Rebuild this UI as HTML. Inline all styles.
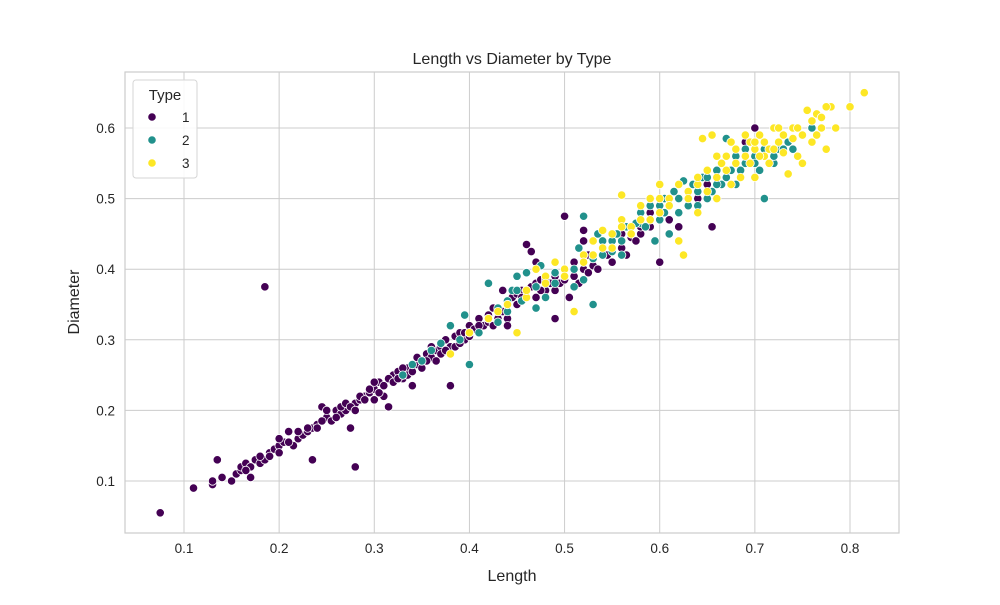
<!DOCTYPE html>
<html><head><meta charset="utf-8"><style>
body{margin:0;background:#fff}
svg{font-family:"Liberation Sans","DejaVu Sans",sans-serif}
</style></head><body>
<svg id="chart" width="1000" height="600"></svg>
<script>
const xTicks=[0.1,0.2,0.3,0.4,0.5,0.6,0.7,0.8];
const yTicks=[0.1,0.2,0.3,0.4,0.5,0.6];
const typeLabels=["1","2","3"];
const type1=[[0.075,0.055],[0.11,0.09],[0.13,0.095],[0.13,0.1],[0.135,0.13],[0.14,0.105],[0.15,0.1],[0.155,0.11],[0.16,0.115],[0.16,0.12],[0.165,0.125],[0.17,0.105],[0.17,0.12],[0.175,0.13],[0.18,0.125],[0.185,0.375],[0.185,0.13],[0.19,0.14],[0.195,0.145],[0.2,0.15],[0.2,0.14],[0.205,0.155],[0.21,0.17],[0.215,0.15],[0.22,0.16],[0.225,0.165],[0.23,0.17],[0.235,0.13],[0.235,0.175],[0.24,0.18],[0.245,0.205],[0.25,0.19],[0.255,0.185],[0.26,0.2],[0.265,0.195],[0.27,0.2],[0.275,0.175],[0.28,0.12],[0.28,0.21],[0.285,0.215],[0.29,0.22],[0.295,0.225],[0.3,0.23],[0.3,0.215],[0.305,0.24],[0.31,0.22],[0.315,0.205],[0.32,0.25],[0.325,0.255],[0.33,0.245],[0.335,0.26],[0.34,0.235],[0.345,0.265],[0.35,0.27],[0.355,0.28],[0.36,0.275],[0.365,0.285],[0.37,0.29],[0.375,0.3],[0.38,0.235],[0.38,0.29],[0.385,0.305],[0.39,0.31],[0.395,0.3],[0.4,0.32],[0.405,0.315],[0.41,0.33],[0.415,0.32],[0.42,0.325],[0.425,0.345],[0.43,0.34],[0.435,0.37],[0.44,0.35],[0.445,0.36],[0.45,0.365],[0.455,0.37],[0.46,0.36],[0.465,0.375],[0.47,0.38],[0.475,0.385],[0.48,0.37],[0.485,0.38],[0.49,0.33],[0.49,0.39],[0.5,0.4],[0.5,0.475],[0.505,0.36],[0.51,0.41],[0.515,0.38],[0.52,0.44],[0.525,0.42],[0.53,0.405],[0.54,0.43],[0.55,0.41],[0.56,0.43],[0.57,0.445],[0.58,0.45],[0.59,0.48],[0.6,0.41],[0.61,0.47],[0.62,0.46],[0.63,0.5],[0.65,0.52],[0.655,0.46],[0.67,0.54],[0.69,0.58],[0.7,0.6],[0.46,0.435],[0.465,0.425],
[0.165,0.115],[0.18,0.135],[0.19,0.135],[0.2,0.16],[0.21,0.155],[0.22,0.17],[0.23,0.175],[0.24,0.175],[0.245,0.185],[0.25,0.2],[0.26,0.19],[0.265,0.205],[0.27,0.21],[0.275,0.205],[0.28,0.2],[0.285,0.22],[0.29,0.215],[0.295,0.23],[0.3,0.24],[0.305,0.225],[0.31,0.235],[0.315,0.245],[0.32,0.24],[0.325,0.245],[0.33,0.26],[0.335,0.25],[0.34,0.255],[0.345,0.275],[0.35,0.26],[0.355,0.27],[0.36,0.29],[0.365,0.27],[0.37,0.28],[0.375,0.285],[0.385,0.29],[0.39,0.295],[0.395,0.31],[0.4,0.305],[0.41,0.32],[0.42,0.335],[0.425,0.32],[0.43,0.33],[0.435,0.34],[0.44,0.33],[0.45,0.35],[0.455,0.36],[0.47,0.36],[0.475,0.37],[0.48,0.385],[0.49,0.37],[0.495,0.38],[0.5,0.385],[0.51,0.39],[0.52,0.4],[0.525,0.395],[0.53,0.42],[0.535,0.4],[0.545,0.42],[0.55,0.43],[0.56,0.45],[0.565,0.42],[0.575,0.44],[0.58,0.46],[0.59,0.46],[0.6,0.47],[0.62,0.48],[0.64,0.5],[0.66,0.53],[0.68,0.55],[0.44,0.32],[0.47,0.41],[0.52,0.455]];
const type2=[[0.33,0.25],[0.34,0.265],[0.35,0.27],[0.36,0.285],[0.37,0.295],[0.38,0.32],[0.39,0.3],[0.395,0.335],[0.4,0.265],[0.41,0.31],[0.42,0.38],[0.43,0.325],[0.44,0.355],[0.445,0.37],[0.45,0.39],[0.46,0.395],[0.47,0.345],[0.475,0.405],[0.48,0.36],[0.49,0.38],[0.5,0.4],[0.51,0.375],[0.515,0.43],[0.52,0.385],[0.53,0.35],[0.535,0.45],[0.54,0.42],[0.55,0.44],[0.56,0.42],[0.565,0.46],[0.57,0.45],[0.58,0.465],[0.59,0.47],[0.595,0.44],[0.6,0.49],[0.605,0.48],[0.61,0.45],[0.62,0.5],[0.625,0.525],[0.63,0.49],[0.64,0.51],[0.645,0.53],[0.65,0.5],[0.66,0.54],[0.665,0.52],[0.67,0.585],[0.675,0.54],[0.68,0.52],[0.69,0.55],[0.7,0.56],[0.705,0.54],[0.71,0.5],[0.72,0.55],[0.725,0.57],[0.73,0.57],[0.735,0.58],[0.74,0.57],[0.76,0.6],[0.52,0.475],[0.45,0.37],
[0.4,0.31],[0.42,0.33],[0.43,0.345],[0.44,0.34],[0.455,0.355],[0.46,0.37],[0.47,0.375],[0.48,0.39],[0.49,0.395],[0.5,0.39],[0.51,0.4],[0.52,0.41],[0.53,0.415],[0.54,0.44],[0.55,0.425],[0.555,0.45],[0.56,0.44],[0.57,0.46],[0.575,0.465],[0.58,0.48],[0.585,0.46],[0.59,0.49],[0.6,0.47],[0.605,0.5],[0.61,0.49],[0.615,0.51],[0.62,0.48],[0.63,0.51],[0.635,0.52],[0.64,0.49],[0.65,0.53],[0.655,0.51],[0.66,0.52],[0.67,0.53],[0.68,0.56],[0.685,0.54],[0.69,0.57],[0.7,0.55],[0.71,0.57],[0.72,0.56]];
const type3=[[0.38,0.28],[0.4,0.31],[0.42,0.33],[0.44,0.35],[0.45,0.31],[0.46,0.36],[0.47,0.4],[0.48,0.39],[0.49,0.41],[0.5,0.4],[0.51,0.34],[0.52,0.42],[0.53,0.44],[0.54,0.455],[0.55,0.43],[0.56,0.505],[0.57,0.46],[0.58,0.47],[0.59,0.5],[0.6,0.48],[0.61,0.5],[0.62,0.44],[0.625,0.42],[0.63,0.51],[0.64,0.52],[0.645,0.585],[0.65,0.54],[0.655,0.59],[0.66,0.53],[0.665,0.55],[0.67,0.56],[0.675,0.52],[0.68,0.57],[0.685,0.53],[0.69,0.56],[0.695,0.58],[0.7,0.57],[0.705,0.59],[0.71,0.56],[0.715,0.55],[0.72,0.6],[0.725,0.58],[0.73,0.59],[0.735,0.535],[0.74,0.6],[0.745,0.56],[0.75,0.55],[0.755,0.625],[0.76,0.58],[0.765,0.62],[0.77,0.6],[0.775,0.57],[0.78,0.63],[0.785,0.6],[0.8,0.63],[0.815,0.65],[0.775,0.63],[0.6,0.52],[0.56,0.47],
[0.43,0.34],[0.46,0.37],[0.48,0.38],[0.5,0.39],[0.52,0.41],[0.53,0.42],[0.54,0.43],[0.55,0.45],[0.56,0.46],[0.57,0.45],[0.58,0.49],[0.59,0.47],[0.6,0.5],[0.61,0.49],[0.62,0.52],[0.63,0.5],[0.64,0.53],[0.65,0.51],[0.66,0.56],[0.67,0.54],[0.675,0.58],[0.68,0.55],[0.69,0.59],[0.695,0.55],[0.7,0.58],[0.705,0.56],[0.71,0.58],[0.715,0.57],[0.72,0.57],[0.725,0.6],[0.73,0.565],[0.74,0.585],[0.745,0.6],[0.75,0.59],[0.76,0.61],[0.765,0.59],[0.77,0.615],[0.7,0.53],[0.66,0.5],[0.64,0.48]];
const colors=["#440154","#21918c","#fde725"];

const NS="http://www.w3.org/2000/svg";
const svg=document.getElementById('chart');
const L=125,R=899,T=72,B=533;
const X=v=>184+(v-0.1)*951.43;
const Y=v=>481-(v-0.1)*706;
function el(tag,attrs,parent){const e=document.createElementNS(NS,tag);for(const k in attrs)e.setAttribute(k,attrs[k]);(parent||svg).appendChild(e);return e;}

const title=el('text',{x:512,y:64,'text-anchor':'middle','font-size':16,fill:'#262626'});
title.textContent='Length vs Diameter by Type';



xTicks.forEach(t=>{
  const g=el('line',{x1:X(t),x2:X(t),y1:T,y2:B,stroke:'#cccccc','stroke-width':1});
  
  
  const tx=el('text',{x:X(t),y:B+20,'text-anchor':'middle','font-size':13.5,fill:'#262626'});
  tx.textContent=String(t);
  
  
});
yTicks.forEach(t=>{
  const g=el('line',{x1:L,x2:R,y1:Y(t),y2:Y(t),stroke:'#cccccc','stroke-width':1});
  
  
  const tx=el('text',{x:L-10,y:Y(t)+5,'text-anchor':'end','font-size':13.5,fill:'#262626'});
  tx.textContent=String(t);
  
  
});
const frame=el('rect',{x:L,y:T,width:R-L,height:B-T,fill:'none',stroke:'#cccccc','stroke-width':1.2});



const xt=el('text',{x:512,y:581,'text-anchor':'middle','font-size':16,fill:'#262626'});
xt.textContent='Length';


const yt=el('text',{x:79,y:302,'text-anchor':'middle','font-size':16,fill:'#262626',transform:'rotate(-90 79 302)'});
yt.textContent='Diameter';



[type1,type2,type3].forEach((series,i)=>{
  const g=el('g',{});
  
  
  series.forEach(p=>{
    const c=el('circle',{cx:X(p[0]),cy:Y(p[1]),r:4.2,fill:colors[i],stroke:'#fff','stroke-width':0.8},g);
    
    
  });
});

const lg=el('g',{});


el('rect',{x:133,y:80,width:64,height:98,rx:3,fill:'#fff','fill-opacity':0.85,stroke:'#d6d6d6'},lg);
const lt=el('text',{x:165,y:100,'text-anchor':'middle','font-size':15,fill:'#262626'},lg);
lt.textContent='Type';


typeLabels.forEach((lab,i)=>{
  const y=117+i*23;
  const m=el('circle',{cx:152,cy:y,r:4.2,fill:colors[i],stroke:'#fff','stroke-width':0.8},lg);
  
  
  const t=el('text',{x:182,y:y+5,'font-size':13.5,fill:'#262626'},lg);
  t.textContent=lab;
  
  
});
</script>
</body></html>
